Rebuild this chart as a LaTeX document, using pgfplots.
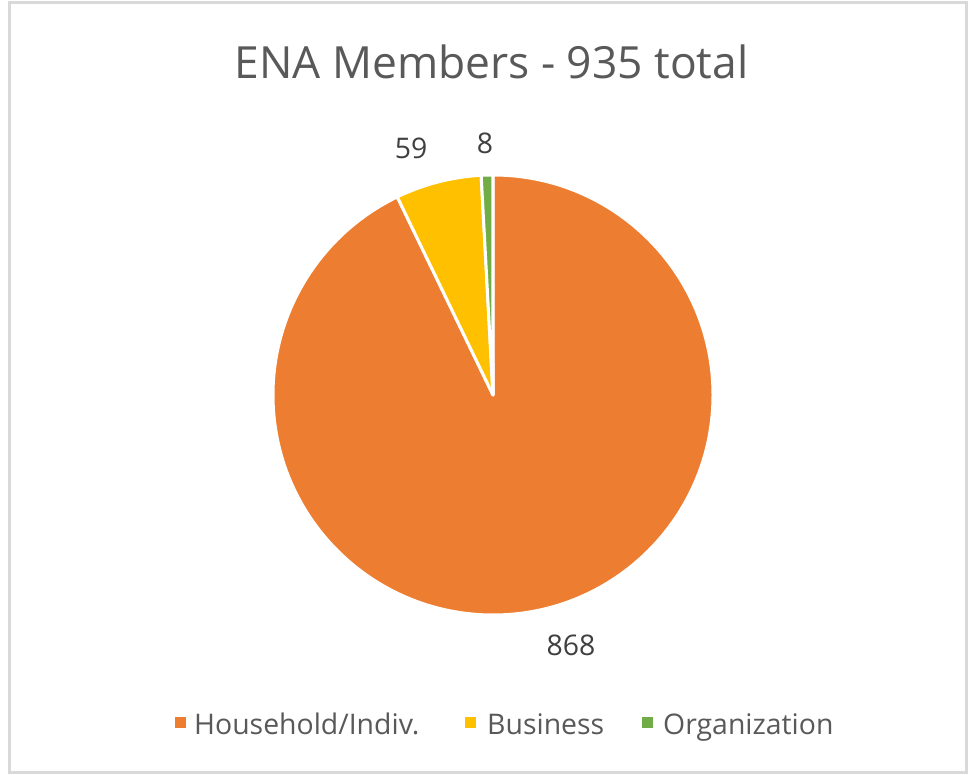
\documentclass[border=0pt]{standalone}
\usepackage{pgfplots}
\usepackage{pgfplotstable}
\usepackage{fontspec}
\setmainfont{Open Sans}
\pgfplotsset{compat=1.18}
\definecolor{cA}{HTML}{ED7D31}
\definecolor{cB}{HTML}{FFC000}
\definecolor{cC}{HTML}{70AD47}
\definecolor{ttl}{HTML}{595959}
\definecolor{lbl}{HTML}{404040}
\definecolor{brd}{HTML}{D9D9D9}

\pgfplotstableread{
label value
Household 868
Business 59
Organization 8
}\membertable

\begin{document}
\begin{tikzpicture}
\pgfplotstablegetelem{0}{value}\of\membertable \let\vA\pgfplotsretval
\pgfplotstablegetelem{1}{value}\of\membertable \let\vB\pgfplotsretval
\pgfplotstablegetelem{2}{value}\of\membertable \let\vC\pgfplotsretval
\pgfmathsetmacro\total{\vA+\vB+\vC}
\pgfmathsetmacro\aA{90-360*(\vA/\total)}
\pgfmathsetmacro\aB{\aA-360*(\vB/\total)}
\pgfmathsetmacro\aC{\aB-360*(\vC/\total)}
\begin{axis}[x=1bp,y=1bp,xmin=0,xmax=969,ymin=0,ymax=775,hide axis,clip=false,scale only axis]
\fill[white] (axis cs:0,0) rectangle (axis cs:969,775);
\draw[brd, line width=3bp] (axis cs:9,2) rectangle (axis cs:966,772.5);
\fill[cA, draw=white, line width=3bp, line join=round] (axis cs:493,380) -- ++(90:220bp) arc[start angle=90,end angle=\aA,radius=220bp] -- cycle;
\fill[cB, draw=white, line width=3bp, line join=round] (axis cs:493,380) -- ++(\aA:220bp) arc[start angle=\aA,end angle=\aB,radius=220bp] -- cycle;
\fill[cC, draw=white, line width=3bp, line join=round] (axis cs:493,380) -- ++(\aB:220bp) arc[start angle=\aB,end angle=\aC,radius=220bp] -- cycle;
\node[text=lbl, font=\fontsize{28.5}{34}\selectfont] at (axis cs:571,130) {\vA};
\node[text=lbl, font=\fontsize{28.5}{34}\selectfont] at (axis cs:411,627) {\vB};
\node[text=lbl, font=\fontsize{28.5}{34}\selectfont] at (axis cs:485,632) {\vC};
\node[text=ttl, font=\fontsize{44.5}{52}\selectfont] at (axis cs:491.5,713) {ENA Members - 935 total};
\fill[cA] (axis cs:174.5,47) rectangle (axis cs:185.5,58);
\fill[cB] (axis cs:465,47) rectangle (axis cs:476,58);
\fill[cC] (axis cs:642,47) rectangle (axis cs:653,58);
\node[text=ttl, anchor=base west, inner sep=0pt, font=\fontsize{28.5}{34}\selectfont] at (axis cs:194,40) {Household/Indiv.};
\node[text=ttl, anchor=base west, inner sep=0pt, font=\fontsize{28.5}{34}\selectfont] at (axis cs:487,40) {Business};
\node[text=ttl, anchor=base west, inner sep=0pt, font=\fontsize{28.5}{34}\selectfont] at (axis cs:663,40) {Organization};
\end{axis}
\end{tikzpicture}
\end{document}
